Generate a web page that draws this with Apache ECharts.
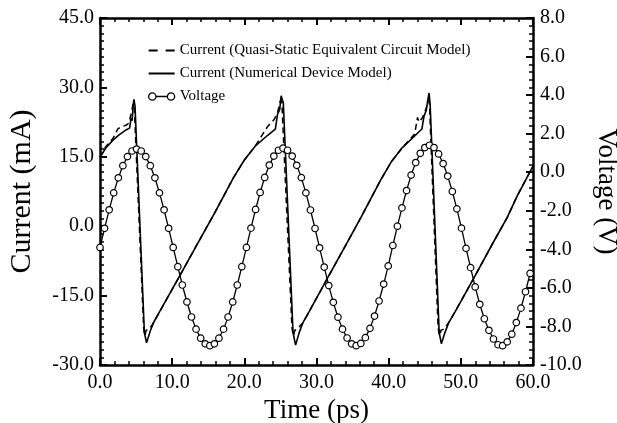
<!DOCTYPE html>
<html>
<head>
<meta charset="utf-8">
<title>Current and Voltage vs Time</title>
<script src="https://cdn.jsdelivr.net/npm/echarts@6/dist/echarts.min.js"></script>
<style>
  html, body { margin: 0; padding: 0; background: #fff; }
  #chart { width: 617px; height: 423px; }
</style>
</head>
<body>
<div id="chart"></div>
<script>
// axis ticks
var timeTicks = [0, 10, 20, 30, 40, 50, 60];
var currentTicks = [-30, -15, 0, 15, 30, 45];
var voltageTicks = [-10, -8, -6, -4, -2, 0, 2, 4, 6, 8];

// Current (Numerical Device Model), solid line
var solidTime = [0, 0.8, 1.8, 2.6, 3.6, 4.1, 4.3, 4.45, 4.6, 4.7, 4.85, 6.15, 6.45, 7.0, 7.5, 8.4, 11.2, 14.0, 15.8, 18.5,
  20.0, 21.5, 23.2, 24.3, 24.6, 24.9, 25.1, 25.25, 25.4, 26.75, 27.1, 27.6, 28.1, 29.0, 31.6, 34.4, 36.2, 38.9, 40.4, 41.9,
  43.6, 44.6, 44.9, 45.2, 45.45, 45.6, 45.75, 47.0, 47.3, 47.8, 48.3, 49.2, 51.8, 54.6, 56.4, 57.8, 60];
var solidCurrent = [14.9, 16.9, 18.6, 19.7, 20.8, 21.2, 23.3, 22.8, 26.2, 27.4, 26.0, -23.0, -25.2, -22.5, -20.6, -18.1, -10.3, -2.4, 2.6, 10.5,
  14.3, 17.3, 19.6, 21.0, 24.2, 25.2, 28.2, 28.5, 26.7, -23.0, -25.7, -23.0, -20.9, -18.4, -11.0, -3.1, 2.0, 10.0, 14.0, 17.0,
  19.5, 21.0, 23.8, 25.0, 27.5, 28.8, 26.2, -23.0, -25.4, -23.0, -20.9, -18.5, -11.2, -3.2, 1.8, 6.5, 13.0];

// Current (Quasi-Static Equivalent Circuit Model), dashed line
var dashTime = [0, 0.8, 1.8, 2.5, 3.2, 3.6, 4.0, 4.3, 4.6, 4.75, 6.05, 6.2, 6.4, 6.7, 7.2, 7.5, 8.4, 11.2, 14.0, 15.8,
  18.5, 20.0, 21.5, 23.2, 24.1, 24.6, 25.0, 25.2, 26.6, 26.8, 27.0, 27.3, 27.8, 28.1, 29.0, 31.6, 34.4, 36.2, 38.9, 40.4,
  41.9, 43.6, 44.0, 44.2, 44.7, 45.2, 45.5, 45.65, 46.85, 47.05, 47.25, 47.55, 48.05, 48.3, 49.2, 51.8, 54.6, 56.4, 57.8, 60];
var dashCurrent = [14.9, 17.2, 19.0, 21.1, 21.6, 21.8, 22.3, 24.2, 26.5, 25.7, -22.0, -23.7, -22.5, -22.3, -21.4, -20.6, -18.1, -10.3, -2.4, 2.6,
  10.5, 14.3, 17.3, 21.5, 23.0, 24.5, 27.2, 26.7, -22.0, -23.7, -22.5, -22.3, -21.4, -20.9, -18.4, -11.0, -3.1, 2.0, 10.0, 14.0,
  17.0, 19.9, 23.5, 22.5, 23.5, 25.5, 27.2, 26.5, -22.0, -23.7, -22.5, -22.3, -21.4, -20.9, -18.5, -11.2, -3.2, 1.8, 6.5, 13.0];

// Voltage, circles
var voltTime = [0.00, 0.63, 1.27, 1.90, 2.54, 3.17, 3.80, 4.44, 5.07, 5.71, 6.34, 6.97, 7.61, 8.24, 8.88, 9.51,
  10.14, 10.78, 11.41, 12.05, 12.68, 13.31, 13.95, 14.58, 15.22, 15.85, 16.48, 17.12, 17.75, 18.39, 19.02, 19.65,
  20.29, 20.92, 21.56, 22.19, 22.82, 23.46, 24.09, 24.73, 25.36, 25.99, 26.63, 27.26, 27.90, 28.53, 29.16, 29.80,
  30.43, 31.07, 31.70, 32.33, 32.97, 33.60, 34.24, 34.87, 35.50, 36.14, 36.77, 37.41, 38.04, 38.67, 39.31, 39.94,
  40.58, 41.21, 41.84, 42.48, 43.11, 43.75, 44.38, 45.01, 45.65, 46.28, 46.92, 47.55, 48.18, 48.82, 49.45, 50.09,
  50.72, 51.35, 51.99, 52.62, 53.26, 53.89, 54.52, 55.16, 55.79, 56.43, 57.06, 57.69, 58.33, 58.96, 59.60];
var voltage = [-3.90, -2.91, -1.95, -1.07, -0.29, 0.34, 0.81, 1.10, 1.20, 1.10, 0.81, 0.34, -0.29, -1.07, -1.95, -2.91,
  -3.90, -4.90, -5.85, -6.73, -7.51, -8.14, -8.61, -8.90, -9.00, -8.90, -8.61, -8.14, -7.51, -6.73, -5.85, -4.90,
  -3.90, -2.90, -1.93, -1.05, -0.27, 0.37, 0.84, 1.14, 1.25, 1.14, 0.84, 0.36, -0.28, -1.07, -1.96, -2.92,
  -3.92, -4.92, -5.88, -6.75, -7.52, -8.14, -8.60, -8.90, -9.00, -8.88, -8.58, -8.10, -7.46, -6.68, -5.80, -4.86,
  -3.80, -2.80, -1.85, -0.95, -0.15, 0.50, 0.98, 1.28, 1.40, 1.28, 0.95, 0.45, -0.20, -1.00, -1.90, -2.90,
  -3.95, -4.95, -5.95, -6.85, -7.60, -8.20, -8.65, -8.95, -9.00, -8.80, -8.40, -7.80, -7.05, -6.20, -5.25];

var nameDash = "Current (Quasi-Static Equivalent Circuit Model)";
var nameSolid = "Current (Numerical Device Model)";
var nameVolt = "Voltage";

function pairs(xs, ys) {
  return xs.map(function (x, i) { return [x, ys[i]]; });
}
function oneDecimal(v) {
  return v.toFixed(1);
}

var FONT = "Liberation Serif";
var black = "#000";

function frameAxis(extra) {
  var base = {
    axisLine: { show: true, onZero: false, lineStyle: { color: black, width: 2.5 } },
    axisTick: { show: true, inside: true, length: 7, lineStyle: { color: black, width: 2 } },
    minorTick: { show: true, length: 4, lineStyle: { color: black, width: 1.5 } },
    splitLine: { show: false },
    minorSplitLine: { show: false },
    axisLabel: { color: black, fontFamily: FONT, fontSize: 20, formatter: oneDecimal }
  };
  for (var k in extra) {
    if (typeof extra[k] === "object" && base[k] && !Array.isArray(extra[k])) {
      base[k] = Object.assign({}, base[k], extra[k]);
    } else {
      base[k] = extra[k];
    }
  }
  return base;
}

var chart = echarts.init(document.getElementById("chart"));

var option = {
  animation: false,
  backgroundColor: "#fff",
  textStyle: { fontFamily: FONT, color: black },
  grid: { left: 100, right: 84, top: 18, bottom: 58, containLabel: false, outerBoundsMode: "none" },
  legend: {
    orient: "vertical",
    left: 143,
    top: 38,
    itemWidth: 26,
    itemHeight: 8,
    itemGap: 8,
    textStyle: { fontFamily: FONT, fontSize: 15, color: black },
    data: [
      { name: nameDash, icon: "path://M0,0H9V2H0ZM17,0H26V2H17Z", itemStyle: { color: black, borderWidth: 0 } },
      { name: nameSolid, icon: "path://M0,0H26V2H0Z", itemStyle: { color: black, borderWidth: 0 } },
      {
        name: nameVolt,
        icon: "path://M0.5,4A3.5,3.5,0,1,1,7.5,4A3.5,3.5,0,1,1,0.5,4ZM7.5,4L18.5,4M18.5,4A3.5,3.5,0,1,1,25.5,4A3.5,3.5,0,1,1,18.5,4Z",
        itemStyle: { color: "#fff", borderColor: black, borderWidth: 1.3 }
      }
    ]
  },
  xAxis: [
    frameAxis({
      type: "value",
      position: "bottom",
      min: timeTicks[0],
      max: timeTicks[timeTicks.length - 1],
      interval: timeTicks[1] - timeTicks[0],
      minorTick: { splitNumber: 5 },
      axisLabel: { margin: 8 },
      name: "Time (ps)",
      nameLocation: "middle",
      nameGap: 30,
      nameTextStyle: { fontFamily: FONT, fontSize: 27, color: black }
    }),
    frameAxis({
      type: "value",
      position: "top",
      min: timeTicks[0],
      max: timeTicks[timeTicks.length - 1],
      interval: timeTicks[1] - timeTicks[0],
      minorTick: { splitNumber: 5 },
      axisLabel: { show: false }
    })
  ],
  yAxis: [
    frameAxis({
      type: "value",
      position: "left",
      min: currentTicks[0],
      max: currentTicks[currentTicks.length - 1],
      interval: currentTicks[1] - currentTicks[0],
      minorTick: { splitNumber: 9 },
      axisLabel: { margin: 6 },
      name: "Current (mA)",
      nameLocation: "middle",
      nameGap: 63,
      nameTextStyle: { fontFamily: FONT, fontSize: 30, color: black }
    }),
    frameAxis({
      type: "value",
      position: "right",
      min: voltageTicks[0],
      max: voltageTicks[voltageTicks.length - 1],
      interval: voltageTicks[1] - voltageTicks[0],
      minorTick: { splitNumber: 5 },
      axisLabel: { margin: 7 },
      name: "Voltage (V)",
      nameLocation: "middle",
      nameRotate: -90,
      nameGap: 57,
      nameTextStyle: { fontFamily: FONT, fontSize: 27, color: black }
    })
  ],
  series: [
    {
      name: nameDash,
      type: "line",
      xAxisIndex: 0,
      yAxisIndex: 0,
      data: pairs(dashTime, dashCurrent),
      symbol: "none",
      color: black,
      lineStyle: { color: black, width: 1.5, type: [6, 4] },
      z: 2
    },
    {
      name: nameSolid,
      type: "line",
      xAxisIndex: 0,
      yAxisIndex: 0,
      data: pairs(solidTime, solidCurrent),
      symbol: "none",
      color: black,
      lineStyle: { color: black, width: 1.6 },
      z: 3
    },
    {
      name: nameVolt,
      type: "line",
      xAxisIndex: 0,
      yAxisIndex: 1,
      data: pairs(voltTime, voltage),
      symbol: "circle",
      symbolSize: 6.5,
      color: black,
      itemStyle: { color: "#fff", borderColor: black, borderWidth: 1.2 },
      lineStyle: { color: black, width: 1.3 },
      z: 4
    }
  ]
};

chart.setOption(option);
</script>
</body>
</html>
